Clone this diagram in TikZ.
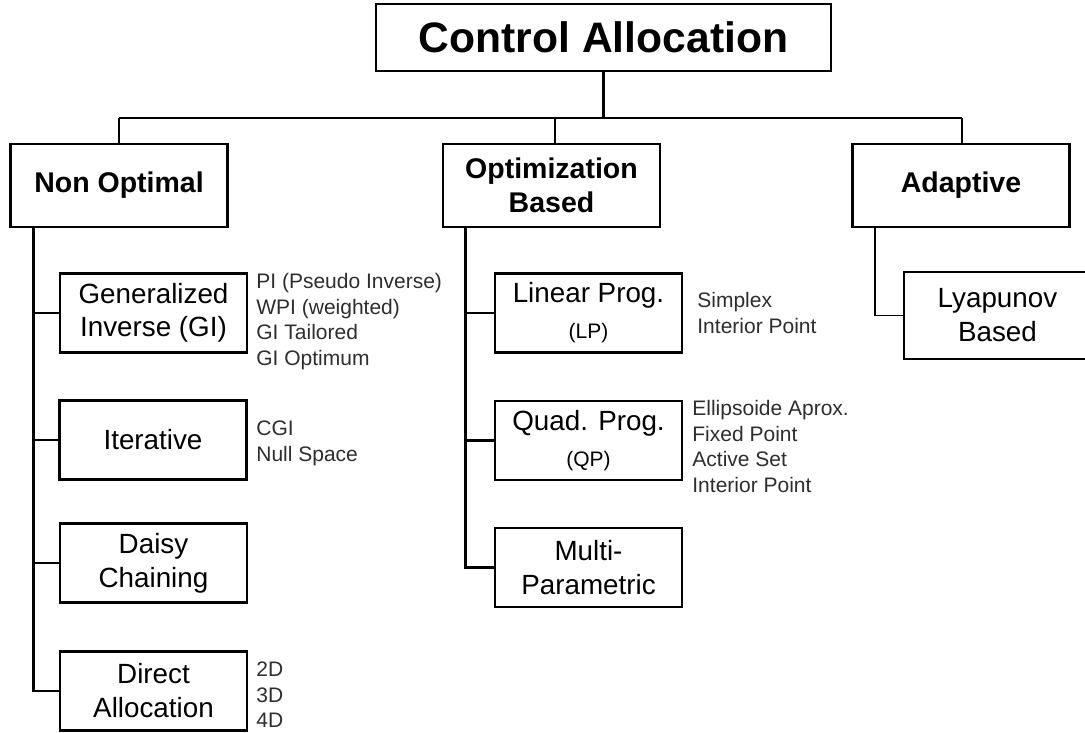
\documentclass[tikz,border=0pt]{standalone}
\usepackage{fontspec}
\setmainfont{Liberation Sans}
\begin{document}
\begin{tikzpicture}[x=1pt,y=-1pt,
  line width=2.8pt,
  titlebox/.style={draw,line width=2.8pt,minimum width=455,minimum height=67,inner sep=0,
    font=\fontsize{42.6}{50}\selectfont\bfseries},
  catbox/.style={draw,line width=2.8pt,minimum width=217,minimum height=83,inner sep=0,align=center,
    font=\fontsize{28.5}{34}\selectfont\bfseries},
  leafbox/.style={draw,line width=2.8pt,minimum width=187,minimum height=79,inner sep=0,align=center,
    font=\fontsize{27.8}{34}\selectfont},
  side/.style={anchor=base west,inner sep=0,text=black!82,font=\fontsize{21}{25}\selectfont}]
\useasboundingbox (0,0) rectangle (1085,733);
\clip (0,0) rectangle (1085,733);
\fill[white] (0,0) rectangle (1085,733);

% title and categories
\node[titlebox] (top) at (603.5,37.5) {Control Allocation};
\node[catbox] (nonopt) at (119,185.5) {Non Optimal};
\node[catbox] (opt) at (551.5,185.5) {Optimization\\Based};
\node[catbox] (adapt) at (961,185.5) {Adaptive};

% leaves of Non Optimal
\node[leafbox] (gi) at (153.5,313) {Generalized\\[-1pt]Inverse (GI)};
\node[leafbox] (it) at (153,440) {Iterative};
\node[leafbox] (dc) at (153.5,563) {Daisy\\Chaining};
\node[leafbox] (da) at (153.5,691) {Direct\\Allocation};

% leaves of Optimization Based
\node[leafbox] (lp) at (588.5,313) {Linear Prog.\\[2pt]{\fontsize{21}{25}\selectfont (LP)}};
\node[leafbox] (qp) at (588.5,440.5) {Quad. Prog.\\[2pt]{\fontsize{21}{25}\selectfont (QP)}};
\node[leafbox] (mp) at (588.5,567.5) {Multi-\\Parametric};

% leaf of Adaptive
\node[leafbox,minimum height=87] (ly) at (997.5,315.5) {Lyapunov\\Based};

% side lists
\foreach \t [count=\i] in {PI (Pseudo Inverse),WPI (weighted),GI Tailored,GI Optimum}
  \node[side] (gis\i) at (255,{263+25.5*\i}) {\t};
\foreach \t [count=\i] in {CGI,Null Space}
  \node[side] (its\i) at (255,{409+26*\i}) {\t};
\foreach \t [count=\i] in {2D,3D,4D}
  \node[side] (das\i) at (255,{651+25.5*\i}) {\t};
\foreach \t [count=\i] in {Simplex,Interior Point}
  \node[side] (lps\i) at (696,{281+26*\i}) {\t};
\foreach \t [count=\i] in {Ellipsoide Aprox.,Fixed Point,Active Set,Interior Point}
  \node[side] (qps\i) at (691,{390+25.6*\i}) {\t};

% bus
\coordinate (busL) at (119,118);
\coordinate (busR) at (962,118);
\draw (top.south) -- (top.south |- busL);
\draw (busL) -- (busR);
\draw (busL) -- (nonopt.north);
\draw (busL -| 555,0) -- (opt.north -| 555,0);
\draw (busR) -- (adapt.north -| busR);

% Non Optimal trunk
\coordinate (t1) at ([xshift=24pt]nonopt.south west);
\draw (t1) |- (da.west);
\foreach \n in {gi,it,dc} \draw (t1 |- \n.west) -- (\n.west);

% Optimization trunk
\coordinate (t2) at ([xshift=24pt]opt.south west);
\draw (t2) |- (mp.west);
\foreach \n in {lp,qp} \draw (t2 |- \n.west) -- (\n.west);

% Adaptive trunk (thin)
\coordinate (t3) at ([xshift=24pt]adapt.south west);
\draw[line width=1.3pt] (t3) |- (ly.west);
\end{tikzpicture}
\end{document}
